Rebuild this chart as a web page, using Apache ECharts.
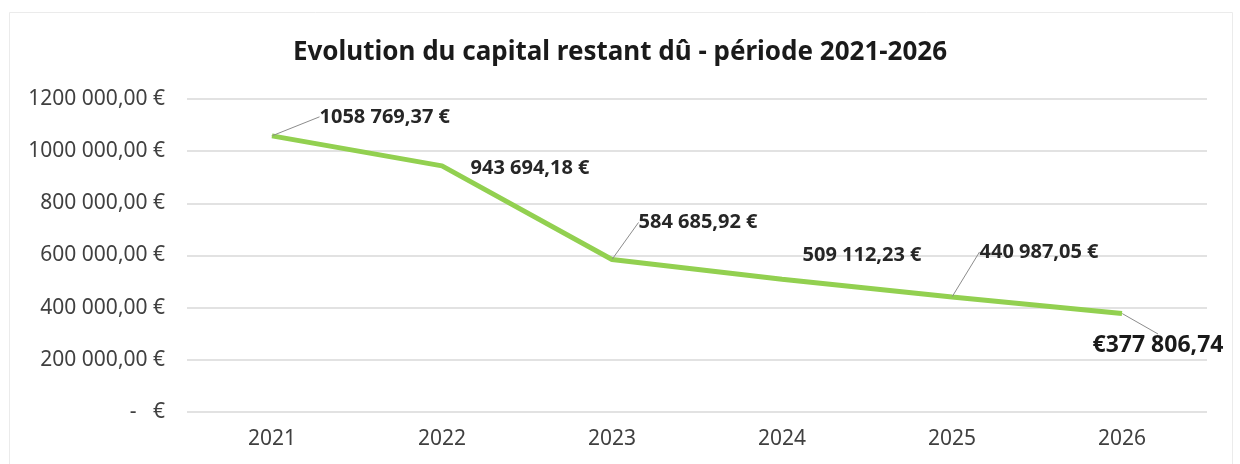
<!DOCTYPE html>
<html>
<head>
<meta charset="utf-8">
<script src="https://cdn.jsdelivr.net/npm/echarts@6/dist/echarts.min.js"></script>
<style>
	html, body { margin: 0; padding: 0; background: #fff; }
	#chart { width: 1240px; height: 464px; }
</style>
</head>
<body>
<div id="chart"></div>
<script>
	// données
	var years = ['2021', '2022', '2023', '2024', '2025', '2026'];
	var capital = [1058769.37, 943694.18, 584685.92, 509112.23, 440987.05, 377806.74];
	var yTicks = [0, 200000, 400000, 600000, 800000, 1000000, 1200000];

	// décalage des étiquettes (dx, dy) et trait de rappel
	var labelShift = [[42, -19], [23, 2], [21, -37], [15, -24], [22, -45], [-35, 32]];
	var leader = [true, false, true, false, true, true];

	function frNum(v, dec) {
		var s = v.toFixed(dec).split('.');
		var i = s[0];
		if (i.length > 3) i = i.slice(0, -3) + ' ' + i.slice(-3);
		return dec ? i + ',' + s[1] : i;
	}

	var font = '"Noto Sans", "Open Sans", sans-serif';
	var myChart = echarts.init(document.getElementById('chart'));
	var last = capital.length - 1;

	var options = {
		backgroundColor: '#fff',
		animation: false,
		title: {
			text: 'Evolution du capital restant dû - période 2021-2026',
			left: 'center',
			top: 35,
			textStyle: {
				fontFamily: font,
				fontSize: 26,
				fontWeight: 'bold',
				color: '#1a1a1a'
			}
		},
		graphic: [{
			type: 'rect',
			left: 7,
			top: 10,
			shape: { width: 1223, height: 452 },
			style: { fill: 'none', stroke: '#ebebeb', lineWidth: 1 },
			silent: true
		}],
		grid: {
			left: 187,
			right: 33,
			top: 99,
			bottom: 52
		},
		xAxis: {
			type: 'category',
			data: years,
			boundaryGap: true,
			axisLine: { show: false },
			axisTick: { show: false },
			axisLabel: {
				margin: 17,
				fontFamily: font,
				fontSize: 21,
				color: '#404040'
			}
		},
		yAxis: {
			type: 'value',
			min: yTicks[0],
			max: yTicks[yTicks.length - 1],
			interval: yTicks[1] - yTicks[0],
			axisLine: { show: false },
			axisTick: { show: false },
			splitLine: {
				lineStyle: { color: '#d9d9d9', width: 1.5 }
			},
			axisLabel: {
				margin: 22,
				fontFamily: font,
				fontSize: 21,
				color: '#404040',
				formatter: function(v) {
					return v === 0 ? '-   €' : frNum(v, 2) + ' €';
				}
			}
		},
		series: [{
			type: 'line',
			data: capital.map(function(v, i) {
				var d = { value: v, labelLine: { show: leader[i] } };
				if (i === last) d.label = { fontSize: 23, fontWeight: 'bold', fontFamily: font, color: '#1a1a1a' };
				return d;
			}),
			symbol: 'circle',
			symbolSize: 1,
			showSymbol: true,
			itemStyle: { color: '#92d050' },
			lineStyle: { color: '#92d050', width: 5 },
			label: {
				show: true,
				position: 'right',
				distance: 5,
				fontFamily: font,
				fontSize: 20,
				fontWeight: 'bold',
				color: '#262626',
				formatter: function(p) {
					if (p.dataIndex === last) return '€' + frNum(p.value, 2);
					return frNum(p.value, 2) + ' €';
				}
			},
			labelLine: {
				show: true,
				lineStyle: { color: '#8c8c8c', width: 1 }
			},
			labelLayout: function(params) {
				var s = labelShift[params.dataIndex];
				return { dx: s[0], dy: s[1] };
			}
		}]
	};
	myChart.setOption(options);
</script>
</body>
</html>
